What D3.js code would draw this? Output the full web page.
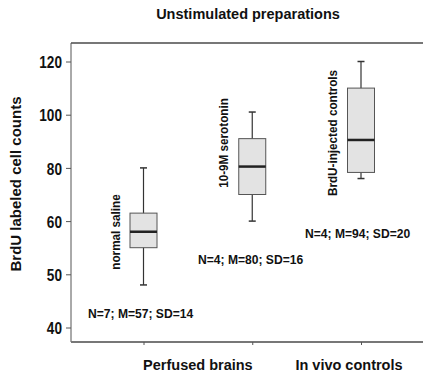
<!DOCTYPE html>
<html>
<head>
<meta charset="utf-8">
<script src="https://cdn.jsdelivr.net/npm/d3@7"></script>
<style>
  body { margin: 0; background: #fff; }
  text { font-family: "Liberation Sans Narrow", "Arial Narrow", "Liberation Sans", sans-serif; font-weight: bold; fill: #111; }
</style>
</head>
<body>
<div class="chart"></div>
<script>
// data
const boxes = ["normal saline", "10-9M serotonin", "BrdU-injected controls"]
const whisker_low = [48, 60, 76]
const q1 = [55, 70, 78.3]
const median = [58, 80.5, 90.5]
const q3 = [63, 91, 110]
const whisker_high = [80, 101, 120]
const stats = ["N=7; M=57; SD=14", "N=4; M=80; SD=16", "N=4; M=94; SD=20"]
const y_ticks = [40, 50, 60, 80, 100, 120]
const groups = ["Perfused brains", "In vivo controls"]

const chart_param = {
    width: 423,
    height: 380,
    margin: { top: 43, left: 71, bottom: 342 }
}

const svg = d3.select(".chart").append("svg")
    .attr("width", chart_param.width)
    .attr("height", chart_param.height)

// squeeze text a bit, the original uses a narrow face
const condense = (sel, k) => sel
    .attr("textLength", function () { return this.getComputedTextLength() * k })
    .attr("lengthAdjust", "spacingAndGlyphs")

// ticks are evenly spaced on the original axis, so a piecewise scale
const step = 53.2
const y = d3.scaleLinear()
    .domain(y_ticks)
    .range(y_ticks.map((d, i) => 327.5 - i * step))

const x = d3.scalePoint()
    .domain(boxes)
    .range([143.5, 361])

const box_w = 27, cap_w = 7

// frame
svg.append("line")
    .attr("x1", chart_param.margin.left).attr("x2", chart_param.width)
    .attr("y1", chart_param.margin.top).attr("y2", chart_param.margin.top)
    .style("stroke", "#777").style("stroke-width", 2)

const yAxis = svg.append("g")
    .attr("transform", `translate(${chart_param.margin.left},0)`)
    .call(d3.axisLeft(y).tickValues(y_ticks).tickSize(5).tickPadding(4).tickSizeOuter(0))
yAxis.select(".domain").attr("d", `M0,${chart_param.margin.top}V${chart_param.margin.bottom}`).style("stroke", "#555")
yAxis.selectAll(".tick line").style("stroke", "#555")
yAxis.selectAll(".tick text").style("font-size", "17px").attr("dy", "0.36em").call(condense, 0.8)

const xAxis = svg.append("g")
    .attr("transform", `translate(0,${chart_param.margin.bottom})`)
    .call(d3.axisBottom(x).tickSize(3).tickSizeOuter(0).tickFormat(""))
xAxis.select(".domain").attr("d", `M${chart_param.margin.left},0H${chart_param.width}`)
    .style("stroke", "#777").style("stroke-width", 2)
xAxis.selectAll(".tick line").style("stroke", "#555")

// boxes
const g = svg.selectAll(".box")
    .data(boxes).enter()
    .append("g")
    .classed("box", true)

g.append("line")
    .attr("x1", d => x(d)).attr("x2", d => x(d))
    .attr("y1", (d, i) => y(whisker_low[i])).attr("y2", (d, i) => y(whisker_high[i]))
    .style("stroke", "#333").style("stroke-width", 1.2)

g.selectAll(".cap")
    .data((d, i) => [whisker_low[i], whisker_high[i]].map(v => ({ c: d, v })))
    .enter().append("line")
    .attr("x1", d => x(d.c) - cap_w / 2).attr("x2", d => x(d.c) + cap_w / 2)
    .attr("y1", d => y(d.v)).attr("y2", d => y(d.v))
    .style("stroke", "#333").style("stroke-width", 1.5)

g.append("rect")
    .attr("x", d => x(d) - box_w / 2)
    .attr("width", box_w)
    .attr("y", (d, i) => y(q3[i]))
    .attr("height", (d, i) => y(q1[i]) - y(q3[i]))
    .style("fill", "#e3e3e3").style("stroke", "#555").style("stroke-width", 1)

g.append("line")
    .attr("x1", d => x(d) - box_w / 2).attr("x2", d => x(d) + box_w / 2)
    .attr("y1", (d, i) => y(median[i])).attr("y2", (d, i) => y(median[i]))
    .style("stroke", "#222").style("stroke-width", 2.5)

// rotated labels beside each box
const label_off = [-24, -24, -24]
const label_mid = [232, 143, 133]
g.append("text")
    .attr("transform", (d, i) => `translate(${x(d) + label_off[i]},${label_mid[i]}) rotate(-90)`)
    .attr("text-anchor", "middle")
    .style("font-size", "13px")
    .text(d => d)
    .call(condense, 0.9)

// stats text
const stat_pos = [[88, 318], [198, 264], [305, 238]]
svg.selectAll(".stat")
    .data(stats).enter()
    .append("text")
    .attr("x", (d, i) => stat_pos[i][0])
    .attr("y", (d, i) => stat_pos[i][1])
    .style("font-size", "13px")
    .text(d => d)
    .call(condense, 0.93)

// group labels
svg.selectAll(".group")
    .data(groups).enter()
    .append("text")
    .attr("x", (d, i) => i === 0 ? (x(boxes[0]) + x(boxes[1])) / 2 : x(boxes[2]) - 12)
    .attr("y", 370)
    .attr("text-anchor", "middle")
    .style("font-size", "14.5px")
    .text(d => d)

svg.append("text")
    .attr("x", 248).attr("y", 19)
    .attr("text-anchor", "middle")
    .style("font-size", "14.5px")
    .text("Unstimulated preparations")

svg.append("text")
    .attr("transform", "translate(21,184) rotate(-90)")
    .attr("text-anchor", "middle")
    .style("font-size", "15px")
    .text("BrdU labeled cell counts")
</script>
</body>
</html>
